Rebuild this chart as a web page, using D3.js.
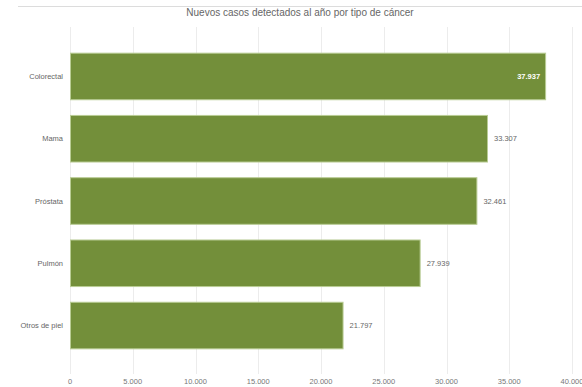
<!DOCTYPE html>
<html>
<head>
<meta charset="utf-8">
<script src="https://cdn.jsdelivr.net/npm/d3@7"></script>
<style>
  body { margin: 0; background: #fff; }
  svg { display: block; font-family: "Liberation Sans", Arial, sans-serif; }
</style>
</head>
<body>
<svg id="chart" width="582" height="387"></svg>
<script>
const categories = ['Colorectal', 'Mama', 'Próstata', 'Pulmón', 'Otros de piel'];
const casos = [37937, 33307, 32461, 27939, 21797];
const ticks = [0, 5000, 10000, 15000, 20000, 25000, 30000, 35000, 40000];
const title = 'Nuevos casos detectados al año por tipo de cáncer';

const fmt = (d) => d3.format(',')(d).replace(/,/g, '.');

const svg = d3.select('#chart');
const x = d3.scaleLinear().domain([0, 40000]).range([70, 572]);
const y = d3.scaleBand().domain(categories).range([30, 372])
	.paddingInner(0.236).paddingOuter(0.364);

// top rule + title
svg.append('line')
	.attr('x1', 18).attr('x2', 582).attr('y1', 6.5).attr('y2', 6.5)
	.attr('stroke', '#dcdcdc').attr('stroke-width', 1);
svg.append('text')
	.attr('x', 300).attr('y', 16)
	.attr('text-anchor', 'middle')
	.attr('font-size', 10)
	.attr('fill', '#666')
	.text(title);

// gridlines
svg.append('g')
	.selectAll('line')
	.data(ticks)
	.enter()
	.append('line')
	.attr('x1', (d) => Math.round(x(d)) + 0.5)
	.attr('x2', (d) => Math.round(x(d)) + 0.5)
	.attr('y1', 27)
	.attr('y2', 374)
	.attr('stroke', '#ececec');

// x axis labels
svg.append('g')
	.selectAll('text')
	.data(ticks)
	.enter()
	.append('text')
	.attr('x', (d) => x(d))
	.attr('y', 384)
	.attr('text-anchor', 'middle')
	.attr('font-size', 7.5)
	.attr('fill', '#777')
	.text((d) => fmt(d));

// category labels
svg.append('g')
	.selectAll('text')
	.data(categories)
	.enter()
	.append('text')
	.attr('x', 63)
	.attr('y', (d) => y(d) + y.bandwidth() / 2)
	.attr('dy', '0.35em')
	.attr('text-anchor', 'end')
	.attr('font-size', 7.5)
	.attr('fill', '#666')
	.text((d) => d);

// bars
svg.append('g')
	.selectAll('rect')
	.data(casos)
	.enter()
	.append('rect')
	.attr('x', x(0) + 0.5)
	.attr('y', (d, i) => y(categories[i]) + 0.5)
	.attr('width', (d) => x(d) - x(0) - 1)
	.attr('height', y.bandwidth() - 1)
	.attr('fill', '#738f3a')
	.attr('stroke', '#b9cc94')
	.attr('stroke-width', 1);

// value labels
svg.append('g')
	.selectAll('text')
	.data(casos)
	.enter()
	.append('text')
	.attr('x', (d, i) => i === 0 ? x(d) - 6 : x(d) + 6)
	.attr('y', (d, i) => y(categories[i]) + y.bandwidth() / 2)
	.attr('dy', '0.35em')
	.attr('text-anchor', (d, i) => i === 0 ? 'end' : 'start')
	.attr('font-size', 7.5)
	.attr('font-weight', (d, i) => i === 0 ? 'bold' : 'normal')
	.attr('fill', (d, i) => i === 0 ? '#fff' : '#666')
	.text((d) => fmt(d));
</script>
</body>
</html>
